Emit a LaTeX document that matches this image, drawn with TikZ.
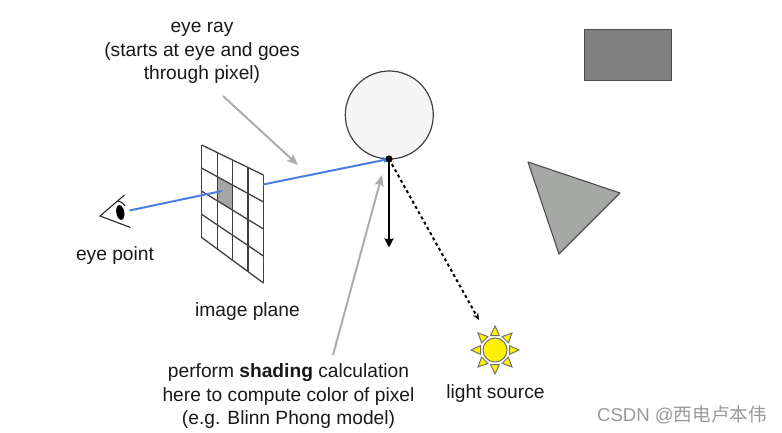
\documentclass[tikz,border=0pt]{standalone}
\usepackage{fontspec}
\setmainfont{Liberation Sans}
\newfontfamily\cjkfont{Noto Sans CJK SC}
\usetikzlibrary{positioning,arrows.meta,calc,shapes}
\definecolor{rayblue}{HTML}{4A7FE0}
\definecolor{notegray}{HTML}{ADADAD}
\definecolor{trigray}{HTML}{A6A8A6}
\tikzset{
  label text/.style={align=center,inner sep=0pt,text=black!90,font=\fontsize{19.2}{23.5}\selectfont},
  eye line/.style={line width=1.1pt,black!85},
  ray line/.style={rayblue,line width=2pt},
  note arrow/.style={notegray,line width=2pt,-{Stealth[length=11pt,width=9pt,inset=2pt]}},
  grid line/.style={line width=1.3pt,black!75},
  sun ray/.style={fill=yellow,draw=black!55,line width=1pt,line join=miter},
}
\begin{document}
\begin{tikzpicture}[x=1pt,y=-1pt]
    \useasboundingbox (0,0) rectangle (782,433);
    % image plane corners
    \coordinate (tl) at (201.7,145);
    \coordinate (tr) at (263.5,175);
    \coordinate (bl) at (201.7,237.5);
    \coordinate (br) at (263.5,283);
    \fill[black!35] ($(tl)!.25!(tr)!.25!($(bl)!.25!(br)$)$) -- ($(tl)!.5!(tr)!.25!($(bl)!.5!(br)$)$) -- ($(tl)!.5!(tr)!.5!($(bl)!.5!(br)$)$) -- ($(tl)!.25!(tr)!.5!($(bl)!.25!(br)$)$) -- cycle;
    \foreach \i in {0,.25,.5,.75,1} {
      \draw[grid line] ($(tl)!\i!(tr)$) -- ($(bl)!\i!(br)$);
      \draw[grid line] ($(tl)!\i!(bl)$) -- ($(tr)!\i!(br)$);
    }
    % eye
    \coordinate (eyetip) at (100,216);
    \coordinate (eyetop) at (124.5,195);
    \coordinate (eyebot) at (130.5,227.5);
    \draw[eye line] (eyetop) -- (eyetip) -- (eyebot);
    \draw[eye line] (117,201) to[bend left=25] (125,206);
    \node[draw=none,fill=black,ellipse,minimum width=8pt,minimum height=15pt,inner sep=0pt,rotate=10] (pupil) at (120.3,212.5) {};
    % sphere, box, triangle
    \node[circle,draw=black!75,fill=black!4,line width=1.2pt,minimum size=88pt,inner sep=0pt] (sphere) at (389.3,115) {};
    \node[rectangle,draw=black!70,fill=black!50,line width=.9pt,minimum width=87pt,minimum height=51pt,inner sep=0pt] (box) at (627.5,54.5) {};
    \coordinate (tria) at (528,162);
    \coordinate (trib) at (620,193);
    \coordinate (tric) at (559,254);
    \draw[draw=black!70,fill=trigray,line width=1.1pt,line join=round] (tria) -- (trib) -- (tric) -- cycle;
    % rays
    \coordinate (hit) at (389,159);
    \coordinate (rayA) at (129.5,210.5);
    \coordinate (rayB) at (222,191);
    \coordinate (rayC) at (263,184.5);
    \draw[ray line] (rayA) -- (rayB);
    \draw[ray line,-{Stealth[length=6pt,width=6pt]}] (rayC) -- (hit);
    \coordinate (normalend) at (389,247.5);
    \draw[line width=2pt,black,-{Stealth[length=9pt,width=9pt,inset=1pt]}] (hit) -- (normalend);
    \coordinate (lightend) at (479,320);
    \draw[line width=2pt,black,dash pattern=on 3pt off 3pt,-{Stealth[length=7pt,width=6pt]}] (hit) -- (lightend);
    \fill[black] (hit) circle [radius=3.6];
    % notes
    \coordinate (noteA) at (223,96);
    \coordinate (noteAend) at (298,165);
    \coordinate (noteB) at (333,355);
    \coordinate (noteBend) at (382,175);
    \draw[note arrow] (noteA) -- (noteAend);
    \draw[note arrow] (noteB) -- (noteBend);
    % sun
    \foreach \a in {0,45,...,315} {
      \draw[sun ray,shift={(495,350)},rotate=\a] (14.5,-4.4) -- (24,0) -- (14.5,4.4) -- cycle;
    }
    \node[circle,draw=black!55,fill=yellow,line width=1pt,minimum size=24pt,inner sep=0pt] (sun) at (495,350) {};
    % labels
    \node[label text] (eyeray) at (202,53) {eye ray\\(starts at eye and goes\\through pixel)};
    \node[label text] (eyepoint) at (115,255.5) {eye point};
    \node[label text] (imageplane) at (247.5,311.5) {image plane};
    \node[label text] (shading) at (288.5,396.5) {perform \textbf{shading} calculation\\here to compute color of pixel\\(e.g. Blinn Phong model)};
    \node[label text] (lightsource) at (495.5,393.5) {light source};
    \node[inner sep=0pt,text=black!40,font=\fontsize{18.6}{22}\selectfont] (csdn) at (682,415) {CSDN @{\cjkfont 西电卢本伟}};
\end{tikzpicture}
\end{document}
